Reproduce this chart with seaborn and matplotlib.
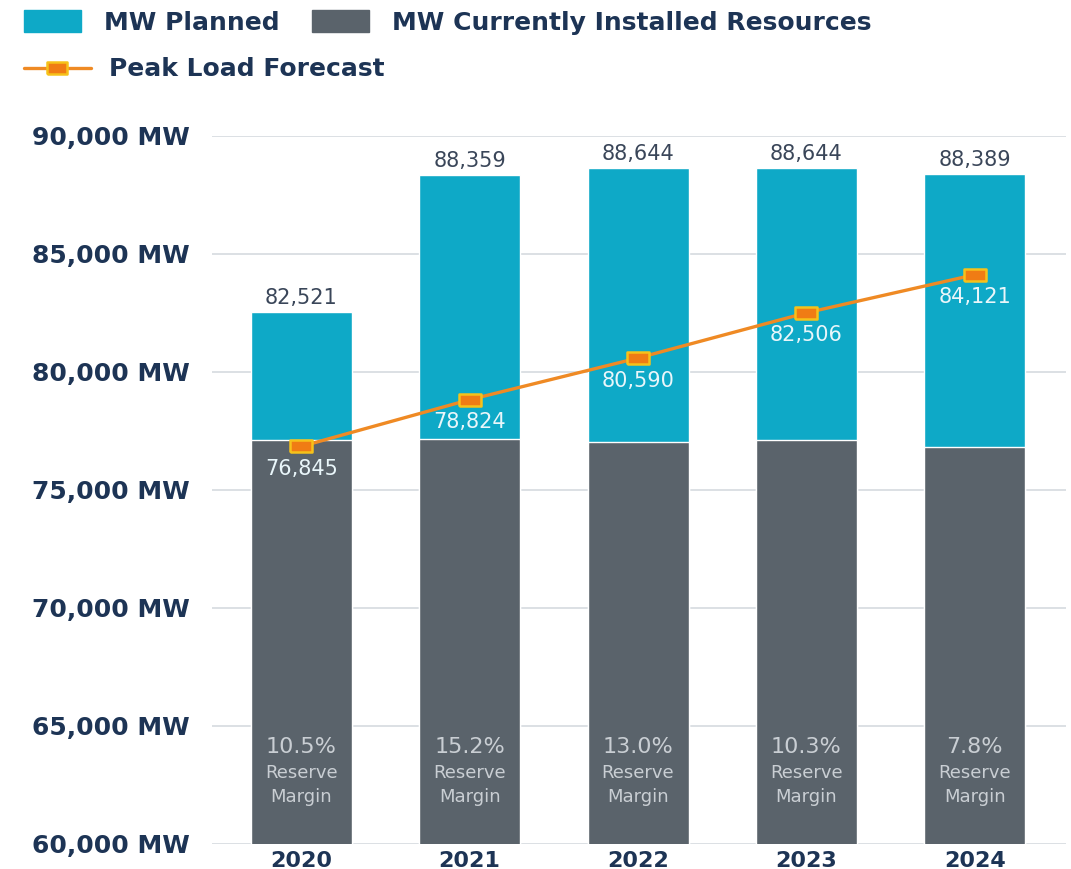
import matplotlib
matplotlib.use("Agg")
from matplotlib import pyplot as plt
from matplotlib.patches import Patch
from matplotlib.lines import Line2D
from matplotlib.ticker import FuncFormatter
import pandas as pd
import seaborn as sns

years = ["2020", "2021", "2022", "2023", "2024"]
total_mw = [82521, 88359, 88644, 88644, 88389]
installed_mw = [77100, 77150, 77050, 77100, 76800]
peak_load = [76845, 78824, 80590, 82506, 84121]
reserve_margin = ["10.5%", "15.2%", "13.0%", "10.3%", "7.8%"]
y_ticks = [60000, 65000, 70000, 75000, 80000, 85000, 90000]

TEAL = "#0ea9c7"
GREY = "#5a636b"
ORANGE = "#ef8a24"
NAVY = "#1d3455"

df = pd.DataFrame({"year": years, "total": total_mw,
                   "installed": installed_mw, "peak": peak_load})

sns.set_style("white")
plt.rcParams["font.family"] = ["DejaVu Sans"]

fig = plt.figure(figsize=(10.71, 8.69), dpi=100)
ax = fig.add_axes([0.198, 0.029, 0.797, 0.8145])

sns.barplot(data=df, x="year", y="total", color=TEAL, width=0.6,
            saturation=1, ax=ax, zorder=2)
sns.barplot(data=df, x="year", y="installed", color=GREY, width=0.6,
            saturation=1, ax=ax, zorder=3)

# rectangular marker
rect = [(-1.8, -1), (1.8, -1), (1.8, 1), (-1.8, 1), (-1.8, -1)]
sns.pointplot(data=df, x="year", y="peak", color=ORANGE, ax=ax,
              marker=rect, markersize=16, markeredgecolor="#f6c21a",
              markerfacecolor="#f07c14", markeredgewidth=1.8,
              linewidth=2.4, zorder=5)

for i, (tot, pk, rm) in enumerate(zip(total_mw, peak_load, reserve_margin)):
    ax.annotate(f"{tot:,}", (i, tot), xytext=(0, 3),
                textcoords="offset points", ha="center", va="bottom",
                fontsize=15, color="#3a4659")
    ax.annotate(f"{pk:,}", (i, pk), xytext=(0, -9),
                textcoords="offset points", ha="center", va="top",
                fontsize=15, color="#e9f6fa", zorder=6)
    ax.text(i, 64100, rm, ha="center", va="center", fontsize=16,
            color="#c9ced3", zorder=6)
    ax.text(i, 63000, "Reserve", ha="center", va="center", fontsize=13,
            color="#c9ced3", zorder=6)
    ax.text(i, 61980, "Margin", ha="center", va="center", fontsize=13,
            color="#c9ced3", zorder=6)

ax.set_ylim(60000, 90000)
ax.set_xlim(-0.53, 4.54)
ax.set_yticks(y_ticks)
ax.yaxis.set_major_formatter(FuncFormatter(lambda v, p: f"{int(v):,} MW"))
ax.set_xlabel("")
ax.set_ylabel("")
ax.grid(axis="y", color="#d9dde2", linewidth=1.3, zorder=0)
ax.set_axisbelow(True)
sns.despine(ax=ax, left=True, bottom=True)
ax.tick_params(axis="y", length=0, pad=16, labelsize=18, labelcolor=NAVY)
ax.tick_params(axis="x", length=0, pad=5, labelsize=16, labelcolor=NAVY)
for lab in ax.get_yticklabels() + ax.get_xticklabels():
    lab.set_fontweight("bold")

bar_handles = [Patch(color=TEAL, label="MW Planned"),
               Patch(color=GREY, label="MW Currently Installed Resources")]
leg1 = fig.legend(handles=bar_handles, loc="upper left", ncol=2,
                  bbox_to_anchor=(0.001, 1.014), frameon=False,
                  handlelength=2.3, handleheight=0.95, handletextpad=0.9,
                  columnspacing=1.3, prop={"size": 18, "weight": "bold"})
line_handle = [Line2D([0], [0], color=ORANGE, linewidth=2.4, marker=rect,
                      markersize=15, markerfacecolor="#f07c14",
                      markeredgewidth=1.8, markeredgecolor="#f6c21a",
                      label="Peak Load Forecast")]
leg2 = fig.legend(handles=line_handle, loc="upper left",
                  bbox_to_anchor=(0.001, 0.96), frameon=False,
                  handlelength=2.7, handletextpad=0.7,
                  prop={"size": 18, "weight": "bold"})
for leg in (leg1, leg2):
    for t in leg.get_texts():
        t.set_color(NAVY)

fig.savefig("out.png", dpi=100)
